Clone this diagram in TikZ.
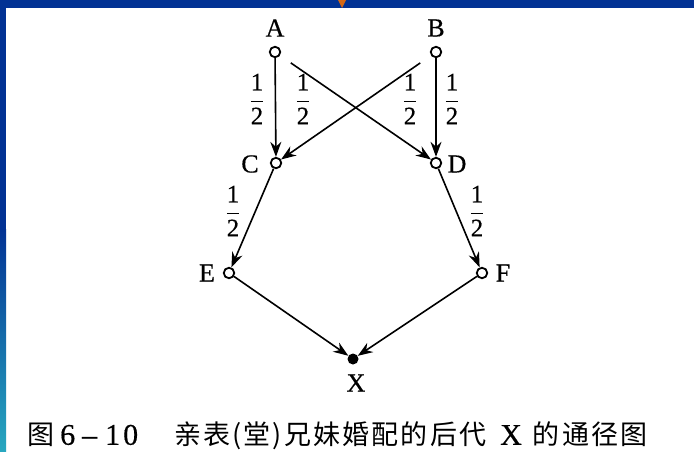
\documentclass[tikz,border=0pt]{standalone}
\usepackage{fontspec}
\setmainfont[FakeBold=0.5]{Liberation Serif}
\newfontfamily\cjk[LetterSpace=8]{Noto Sans CJK SC}
\usetikzlibrary{arrows.meta}
\definecolor{barblue}{RGB}{2,50,148}
\definecolor{barteal}{RGB}{40,168,192}
\definecolor{markorange}{RGB}{214,104,20}
\begin{document}
\begin{tikzpicture}[x=1pt,y=-1pt,
  pt/.style={circle,draw,line width=1.8pt,inner sep=0pt,minimum size=10.5pt,fill=white},
  endpt/.style={circle,fill=black,inner sep=0pt,minimum size=11pt},
  lbl/.style={font=\fontsize{26}{28}\selectfont,inner sep=0pt},
  frac/.style={font=\fontsize{25}{27}\selectfont,inner sep=0pt},
  arr/.style={line width=1.6pt,-{Stealth[length=15pt,width=11pt]}},
  cross/.style={arr,shorten <=13pt}]
\useasboundingbox (0,0) rectangle (694,452);
\fill[white] (0,0) rectangle (694,452);
\fill[barblue] (0,0) rectangle (694,8);
\fill[barblue] (0,0) rectangle (6,230);
\shade[top color=barblue,bottom color=barteal] (0,229) rectangle (6,452);
\fill[markorange] (338,0) -- (346,0) -- (342,8) -- cycle;

\node[pt] (A) at (275,52) {};
\node[pt] (B) at (436,52) {};
\node[pt] (C) at (276,163) {};
\node[pt] (D) at (436,163) {};
\node[pt] (E) at (229,273) {};
\node[pt] (F) at (482,273) {};
\node[endpt] (X) at (353,359) {};

\node[lbl] (lA) at (275,28) {A};
\node[lbl] (lB) at (436,28) {B};
\node[lbl] (lC) at (250,164) {C};
\node[lbl] (lD) at (457,164) {D};
\node[lbl] (lE) at (207,273) {E};
\node[lbl] (lF) at (503,273) {F};
\node[lbl] (lX) at (356,383) {X};

\draw[arr] (A) -- (C);
\draw[arr] (B) -- (D);
\draw[cross] (A) -- (D);
\draw[cross] (B) -- (C);
\draw[arr] (C) -- (E);
\draw[arr] (D) -- (F);
\draw[arr] (E) -- (X);
\draw[arr] (F) -- (X);

\node[frac] (f1) at (257,99) {$\displaystyle\frac{\mbox{1}}{\mbox{2}}$};
\node[frac] (f2) at (303,99) {$\displaystyle\frac{\mbox{1}}{\mbox{2}}$};
\node[frac] (f3) at (410,99) {$\displaystyle\frac{\mbox{1}}{\mbox{2}}$};
\node[frac] (f4) at (452,99) {$\displaystyle\frac{\mbox{1}}{\mbox{2}}$};
\node[frac] (f5) at (233,211) {$\displaystyle\frac{\mbox{1}}{\mbox{2}}$};
\node[frac] (f6) at (477,211) {$\displaystyle\frac{\mbox{1}}{\mbox{2}}$};

\node[anchor=west,inner sep=0pt,font=\fontsize{30}{32}\selectfont] (cap) at (27,436)
  {{\cjk\fontsize{27}{30}\selectfont 图}\hspace{6pt}6\hspace{7pt}–\hspace{8pt}1\hspace{3pt}0\hspace{36pt}{\cjk\fontsize{27}{30}\selectfont 亲表(堂)兄妹婚配的后代}\hspace{14pt}X\hspace{11pt}{\cjk\fontsize{27}{30}\selectfont 的通径图}};
\end{tikzpicture}
\end{document}
